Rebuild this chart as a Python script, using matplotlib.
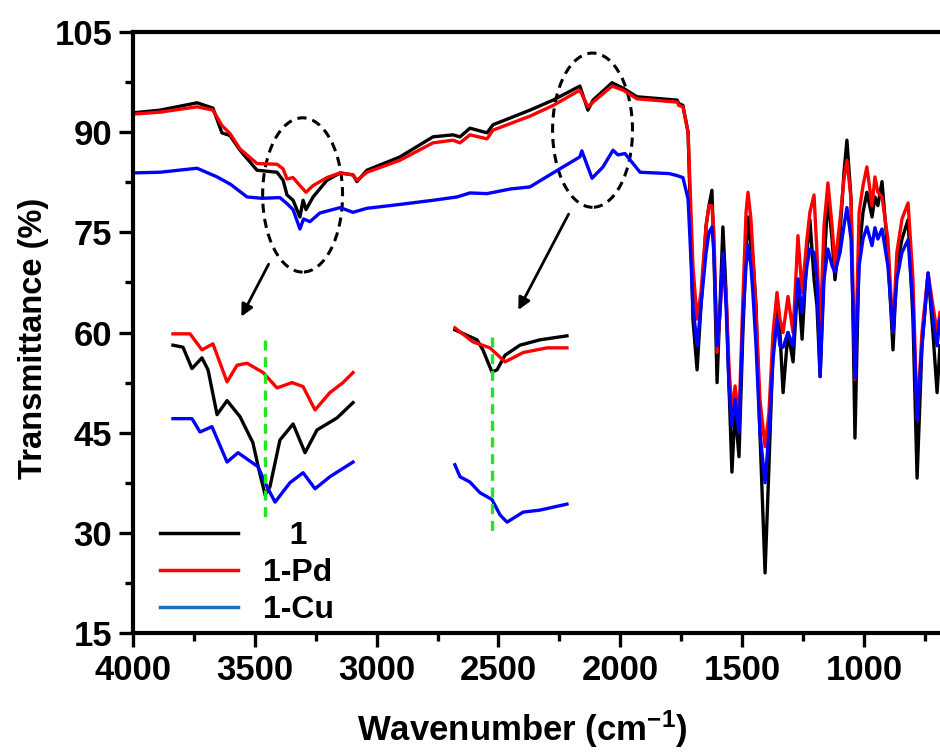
import matplotlib
matplotlib.use("Agg")
import matplotlib.pyplot as plt
from matplotlib.patches import Ellipse
from matplotlib.lines import Line2D
from matplotlib.ticker import MultipleLocator

plt.rcParams['font.family'] = ['Liberation Sans', 'DejaVu Sans']
plt.rcParams['font.weight'] = 'bold'
plt.rcParams['mathtext.fontset'] = 'custom'
plt.rcParams['mathtext.rm'] = 'Liberation Sans:bold'
plt.rcParams['mathtext.bf'] = 'Liberation Sans:bold'
plt.rcParams['mathtext.default'] = 'bf'

# Espectros principais (numero de onda em cm-1, transmitancia em %)
wn_black = [4000, 3889, 3737, 3672, 3635, 3602, 3561, 3491, 3409, 3384, 3368, 3343, 3315, 3302, 3290,
            3261, 3204, 3150, 3097, 3081, 3040, 2904, 2769, 2687, 2658, 2617, 2547, 2523, 2371, 2276,
            2166, 2133, 2112, 2034, 1989, 1932, 1767,
            1760, 1743, 1722, 1714, 1702, 1685, 1669, 1648, 1636, 1624, 1616, 1603, 1591, 1579, 1566,
            1554, 1542, 1529, 1513, 1497, 1484, 1476, 1464, 1456, 1443, 1427, 1406, 1390, 1373, 1357,
            1345, 1332, 1312, 1291, 1271, 1254, 1234, 1222, 1205, 1193, 1180, 1164, 1148, 1131, 1119,
            1098, 1082, 1070, 1053, 1037, 1020, 1004, 988, 967, 955, 943, 926, 902, 881, 865, 844, 819,
            799, 782, 762, 737, 717, 700, 688]
t_black = [92.9, 93.3, 94.4, 93.6, 89.9, 89.5, 87.3, 84.3, 84.0, 82.8, 80.6, 79.8, 77.3, 79.8, 78.4,
           80.3, 82.8, 83.9, 83.6, 82.6, 84.3, 86.3, 89.3, 89.6, 89.3, 90.6, 89.9, 91.1, 93.3, 94.8,
           96.9, 93.3, 94.8, 97.4, 96.6, 95.3, 94.8,
           94.3, 94.0, 90.0, 80.0, 62.0, 54.4, 64.0, 76.0, 79.0, 81.3, 72.0, 52.5, 64.0, 75.8, 66.0,
           52.0, 39.1, 48.4, 41.4, 60.0, 72.0, 77.3, 73.0, 71.3, 64.0, 45.0, 24.0, 40.0, 58.0, 64.0,
           60.0, 51.0, 60.0, 55.6, 68.0, 59.0, 72.0, 76.9, 68.0, 64.0, 53.4, 70.0, 80.3, 74.0, 67.9,
           75.0, 84.0, 88.8, 80.0, 44.2, 72.0, 78.0, 81.0, 77.3, 80.3, 79.0, 82.6, 72.0, 57.4, 70.0, 74.0, 76.9,
           62.0, 38.2, 58.0, 68.9, 60.0, 51.0, 58.0]

wn_red = wn_black
t_red = [92.7, 93.0, 93.8, 93.3, 91.0, 89.8, 87.5, 85.3, 85.2, 84.5, 83.0, 83.2, 82.0, 81.5, 81.0,
         82.0, 83.2, 83.9, 83.6, 82.8, 84.0, 85.8, 88.4, 88.8, 88.4, 89.6, 89.0, 90.3, 92.4, 94.0,
         96.3, 93.8, 94.5, 96.9, 96.3, 95.0, 94.5,
         94.0, 93.8, 90.0, 82.0, 70.0, 62.0, 66.0, 76.0, 79.0, 79.0, 75.0, 57.0, 63.0, 70.0, 66.0,
         55.0, 48.0, 52.0, 47.0, 65.0, 78.0, 81.0, 77.0, 72.0, 63.0, 50.0, 42.9, 48.0, 60.0, 66.0,
         62.0, 60.0, 65.4, 60.0, 74.5, 66.0, 74.0, 78.0, 80.6, 72.0, 60.0, 76.0, 82.4, 76.0, 70.0,
         77.0, 83.0, 85.8, 80.0, 53.0, 78.0, 82.0, 84.8, 79.0, 83.3, 81.0, 80.3, 74.0, 60.0, 72.0, 77.0, 79.4,
         68.0, 47.0, 60.0, 68.9, 64.0, 60.0, 63.0]

wn_blue = [4000, 3889, 3737, 3655, 3600, 3532, 3472, 3397, 3368, 3343, 3315, 3300, 3274, 3233, 3150,
           3097, 3040, 2900, 2769, 2670, 2617, 2547, 2450, 2371, 2276, 2166, 2158, 2116, 2071, 2030,
           2010, 1981, 1919, 1800, 1767,
           1760, 1743, 1722, 1714, 1702, 1685, 1669, 1648, 1636, 1624, 1616, 1603, 1591, 1579, 1566,
           1554, 1542, 1529, 1513, 1497, 1484, 1476, 1464, 1456, 1443, 1427, 1406, 1390, 1373, 1357,
           1345, 1332, 1312, 1291, 1271, 1254, 1234, 1222, 1205, 1193, 1180, 1164, 1148, 1131, 1119,
           1098, 1082, 1070, 1053, 1037, 1020, 1004, 988, 967, 955, 943, 926, 902, 881, 865, 844, 819,
           799, 782, 762, 737, 717, 700, 688]
t_blue = [83.9, 84.0, 84.6, 83.3, 82.2, 80.3, 80.1, 80.2, 79.3, 78.4, 75.5, 77.0, 76.6, 77.9, 78.7,
          78.0, 78.6, 79.2, 79.8, 80.3, 80.9, 80.8, 81.5, 81.8, 83.9, 86.3, 87.2, 83.1, 84.8, 87.3,
          86.6, 86.8, 84.0, 83.8, 83.5,
          83.4, 83.2, 80.0, 74.0, 64.0, 58.0, 64.0, 72.0, 75.0, 75.8, 72.0, 58.0, 63.0, 71.9, 64.0,
          52.0, 46.0, 50.0, 45.0, 62.0, 70.0, 73.1, 70.0, 66.0, 58.0, 45.0, 37.5, 45.0, 56.0, 62.0,
          58.0, 57.8, 60.0, 58.0, 68.0, 63.0, 70.0, 72.5, 72.0, 68.0, 53.4, 68.0, 72.5, 70.0, 69.0,
          72.0, 76.0, 78.7, 74.0, 53.2, 70.0, 74.0, 75.8, 73.0, 75.7, 74.0, 75.5, 70.0, 60.0, 68.0, 72.0, 73.9,
          64.0, 46.9, 58.0, 68.9, 62.0, 58.0, 62.0]

# Detalhe ampliado 1 (regiao 3600-3000), desenhado nas coordenadas do grafico principal
ins1_wn_red = [3836, 3766, 3717, 3672, 3614, 3573, 3532, 3466, 3409, 3347, 3302, 3253, 3192, 3138, 3097]
ins1_t_red = [59.8, 59.8, 57.4, 58.3, 52.6, 55.1, 55.4, 54.0, 51.7, 52.5, 51.9, 48.4, 51.0, 52.5, 54.0]
ins1_wn_black = [3836, 3795, 3758, 3717, 3692, 3655, 3614, 3561, 3508, 3483, 3458, 3438, 3397, 3343,
                 3294, 3245, 3163, 3097]
ins1_t_black = [58.1, 57.8, 54.6, 56.2, 54.4, 47.7, 49.8, 47.4, 43.5, 39.4, 35.7, 36.9, 43.9, 46.3,
                42.0, 45.4, 47.2, 49.5]
ins1_wn_blue = [3836, 3758, 3725, 3676, 3614, 3569, 3487, 3450, 3417, 3356, 3302, 3253, 3192, 3097]
ins1_t_blue = [47.1, 47.1, 45.1, 45.9, 40.6, 42.0, 39.9, 36.9, 34.6, 37.5, 39.0, 36.6, 38.4, 40.6]

# Detalhe ampliado 2 (regiao 2200-2000)
ins2_wn_red = [2679, 2605, 2535, 2473, 2399, 2301, 2219]
ins2_t_red = [60.7, 58.6, 57.7, 55.6, 57.0, 57.7, 57.7]
ins2_wn_black = [2679, 2588, 2564, 2527, 2506, 2473, 2412, 2330, 2219]
ins2_t_black = [60.4, 58.9, 57.4, 54.1, 54.4, 56.6, 58.1, 58.9, 59.5]
ins2_wn_blue = [2679, 2658, 2617, 2576, 2527, 2494, 2465, 2399, 2330, 2219]
ins2_t_blue = [40.2, 38.4, 37.6, 36.0, 35.0, 32.7, 31.6, 33.1, 33.4, 34.3]

labels = ['   1', '1-Pd', '1-Cu']

fig = plt.figure(figsize=(9.4, 7.55), dpi=100)
ax = fig.add_axes([0.1415, 0.1616, 0.8585, 0.796])

lw = 2.4
ax.plot(wn_black, t_black, color='black', lw=lw)
ax.plot(wn_red, t_red, color='#ff0000', lw=lw)
ax.plot(wn_blue, t_blue, color='#0000ff', lw=lw)

ax.plot(ins1_wn_black, ins1_t_black, color='black', lw=lw)
ax.plot(ins1_wn_red, ins1_t_red, color='#ff0000', lw=lw)
ax.plot(ins1_wn_blue, ins1_t_blue, color='#0000ff', lw=lw)
ax.plot(ins2_wn_black, ins2_t_black, color='black', lw=lw)
ax.plot(ins2_wn_red, ins2_t_red, color='#ff0000', lw=lw)
ax.plot(ins2_wn_blue, ins2_t_blue, color='#0000ff', lw=lw)

# linhas verdes tracejadas
ax.plot([3458, 3458], [58.9, 32.2], color='#22e622', lw=2.4, ls=(0, (3, 2)))
ax.plot([2527, 2527], [59.3, 30.0], color='#22e622', lw=2.4, ls=(0, (3, 2)))

# elipses e setas
for cx, cy in [(3304, 80.6), (2114, 90.3)]:
    ax.add_patch(Ellipse((cx, cy), 328, 23.1, fill=False, ec='black', lw=2.2, ls=(0, (3, 2))))
ax.annotate('', xy=(3561, 62.0), xytext=(3438, 70.6),
            arrowprops=dict(arrowstyle='-|>', color='black', lw=2, mutation_scale=18))
ax.annotate('', xy=(2424, 63.0), xytext=(2207, 78.1),
            arrowprops=dict(arrowstyle='-|>', color='black', lw=2, mutation_scale=18))

ax.set_xlim(4000, 688)
ax.set_ylim(15, 105)
ax.xaxis.set_major_locator(MultipleLocator(500))
ax.xaxis.set_minor_locator(MultipleLocator(250))
ax.yaxis.set_major_locator(MultipleLocator(15))
ax.yaxis.set_minor_locator(MultipleLocator(7.5))
ax.tick_params(which='major', length=10, width=2.4, labelsize=25, pad=5)
ax.tick_params(which='minor', length=6, width=2.4)
for s in ax.spines.values():
    s.set_linewidth(3)
ax.spines['right'].set_visible(False)

ax.set_xlabel('Wavenumber (cm$^{-1}$)', fontsize=25, fontweight='bold')
ax.set_ylabel('Transmittance (%)', fontsize=23.5, fontweight='bold')
ax.xaxis.set_label_coords(0.482, -0.126)
ax.yaxis.set_label_coords(-0.104, 0.49)

handles = [Line2D([], [], color='black', lw=2.5),
           Line2D([], [], color='#ff0000', lw=2.5),
           Line2D([], [], color='#1a6fc4', lw=2.5)]
ax.legend(handles, labels, loc='lower left', bbox_to_anchor=(0.033, 0.013), frameon=False,
          fontsize=23, handlelength=2.45, handletextpad=0.78, labelspacing=0.22,
          borderpad=0, borderaxespad=0)

fig.savefig('out.png', dpi=100)
